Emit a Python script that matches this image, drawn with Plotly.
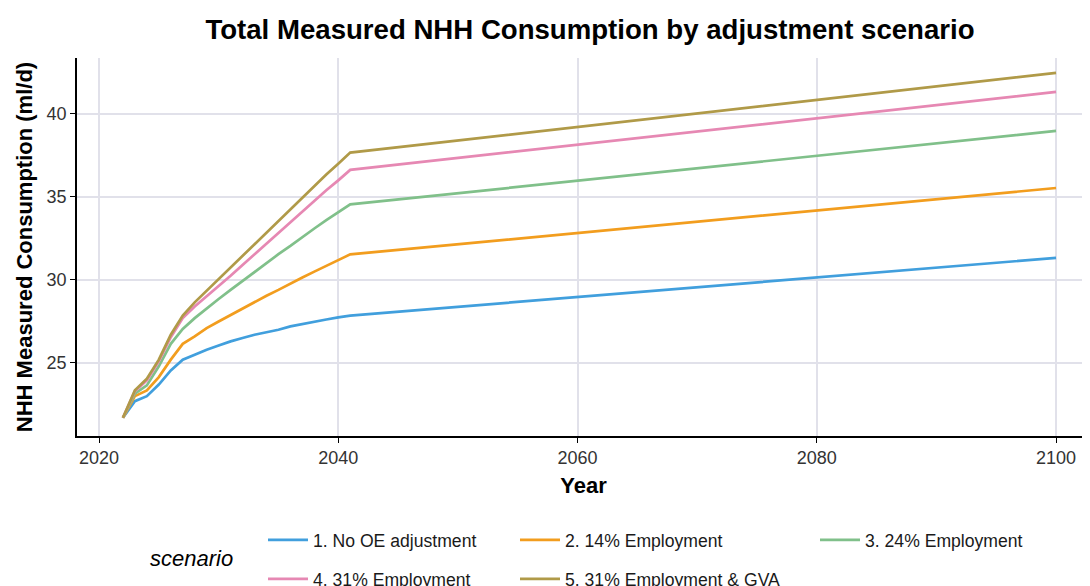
import plotly.graph_objects as go

# ---- data ----
years = [2022, 2023, 2024, 2025, 2026, 2027, 2028, 2029, 2030, 2031,
         2032, 2033, 2034, 2035, 2036, 2037, 2038, 2039, 2040, 2041, 2100]

no_oe = [21.7, 22.7, 23.0, 23.7, 24.55, 25.2, 25.5, 25.8, 26.05, 26.3,
         26.5, 26.7, 26.85, 27.0, 27.2, 27.35, 27.5, 27.62, 27.75, 27.85, 31.33]
emp14 = [21.7, 23.0, 23.35, 24.15, 25.2, 26.15, 26.6, 27.1, 27.5, 27.9,
         28.3, 28.7, 29.05, 29.4, 29.8, 30.15, 30.5, 30.85, 31.2, 31.54, 35.54]
emp24 = [21.7, 23.15, 23.65, 24.8, 26.15, 27.05, 27.7, 28.3, 28.85, 29.4,
         29.95, 30.5, 31.0, 31.55, 32.05, 32.6, 33.1, 33.6, 34.1, 34.55, 38.98]
emp31 = [21.7, 23.3, 23.95, 25.1, 26.55, 27.7, 28.4, 29.0, 29.6, 30.25,
         30.9, 31.55, 32.2, 32.85, 33.5, 34.15, 34.8, 35.4, 36.0, 36.63, 41.33]
emp31_gva = [21.7, 23.35, 24.05, 25.2, 26.7, 27.85, 28.65, 29.35, 30.05, 30.8,
             31.5, 32.2, 32.9, 33.6, 34.3, 35.0, 35.7, 36.35, 37.0, 37.67, 42.47]

scenario_names = ["1. No OE adjustment", "2. 14% Employment", "3. 24% Employment",
                  "4. 31% Employment", "5. 31% Employment & GVA"]
series = [no_oe, emp14, emp24, emp31, emp31_gva]
colors = ["#419FDD", "#F29D1E", "#80C08A", "#E688B3", "#B09A48"]
legend_ids = ["legend", "legend2", "legend3", "legend", "legend2"]

x_ticks = [2020, 2040, 2060, 2080, 2100]
y_ticks = [25, 30, 35, 40]

# ---- layout geometry (figure pixels; page adds an 8px body margin) ----
W, H = 1082, 578
ML, MR, MT, MB = 69, 0, 50, 150
PW = W - ML - MR
PH = H - MT - MB


def px_x(px):
    return (px - ML) / PW


def px_y(py):
    return (H - MB - py) / PH


fig = go.Figure()
for name, vals, col, lg in zip(scenario_names, series, colors, legend_ids):
    fig.add_trace(go.Scatter(
        x=years, y=vals, mode="lines", name=name,
        line=dict(color=col, width=2.7),
        legend=lg, legendgroup=name,
    ))

legend_common = dict(
    orientation="v", yanchor="top", xanchor="left",
    font=dict(family="Liberation Sans, Arial, sans-serif", size=17.6, color="#1a1a1a"),
    bgcolor="rgba(0,0,0,0)", tracegroupgap=13, itemwidth=40,
    traceorder="grouped",
)

fig.update_layout(
    width=W, height=H,
    margin=dict(l=ML, r=MR, t=MT, b=MB, autoexpand=False),
    paper_bgcolor="white", plot_bgcolor="white",
    font=dict(family="Liberation Sans, Arial, sans-serif", color="#1a1a1a"),
    title=dict(
        text="<b>Total Measured NHH Consumption by adjustment scenario</b>",
        font=dict(size=27.6, color="black"),
        x=px_x(582), xref="paper", xanchor="center",
        y=1 - 21 / H, yref="container", yanchor="middle",
    ),
    xaxis=dict(
        range=[2018.16, 2102.84], tickvals=x_ticks,
        showgrid=True, gridcolor="#E1E1EA", gridwidth=1.6,
        showline=True, linecolor="black", linewidth=1.6,
        ticks="outside", ticklen=5, tickcolor="black", tickwidth=1.3,
        tickfont=dict(size=18, color="#333333"),
        title=dict(text="<b>Year</b>", font=dict(size=22, color="black"), standoff=10),
        zeroline=False,
    ),
    yaxis=dict(
        range=[20.60, 43.37], tickvals=y_ticks,
        showgrid=True, gridcolor="#E1E1EA", gridwidth=1.6,
        showline=True, linecolor="black", linewidth=1.6,
        ticks="outside", ticklen=5, tickcolor="black", tickwidth=1.3,
        tickfont=dict(size=18, color="#333333"),
        title=dict(text="<b>NHH Measured Consumption (ml/d)</b>",
                   font=dict(size=22, color="black"), standoff=8),
        zeroline=False,
    ),
    legend=dict(x=px_x(255), y=px_y(514), **legend_common),
    legend2=dict(x=px_x(507), y=px_y(514), **legend_common),
    legend3=dict(x=px_x(807), y=px_y(514), **legend_common),
    annotations=[dict(
        text="<i>scenario</i>", xref="paper", yref="paper",
        x=px_x(140), y=px_y(550), xanchor="left", yanchor="middle",
        showarrow=False, font=dict(size=22, color="black"),
    )],
)

fig.write_html("out.html")
